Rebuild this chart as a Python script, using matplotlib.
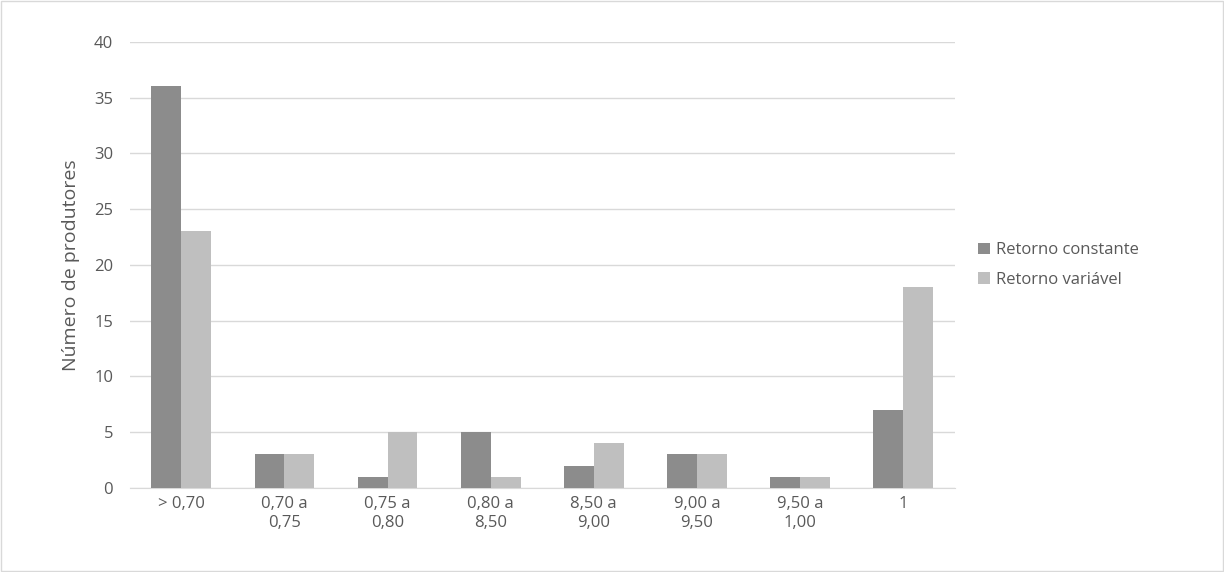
import numpy as np
import matplotlib.pyplot as plt

categorias = ['> 0,70', '0,70 a\n0,75', '0,75 a\n0,80', '0,80 a\n8,50', '8,50 a\n9,00',
              '9,00 a\n9,50', '9,50 a\n1,00', '1']
retorno_constante = [36, 3, 1, 5, 2, 3, 1, 7]
retorno_variavel = [23, 3, 5, 1, 4, 3, 1, 18]

plt.rcParams['font.family'] = ['Open Sans', 'DejaVu Sans']
txt = '#595959'

fig = plt.figure(figsize=(12.24, 5.72), dpi=100)
ax = fig.add_axes([0.106, 0.147, 0.674, 0.78])
x = np.arange(len(categorias))
w = 0.29
ax.bar(x - w / 2, retorno_constante, w, color='#8c8c8c', label='Retorno constante', zorder=3)
ax.bar(x + w / 2, retorno_variavel, w, color='#bfbfbf', label='Retorno variável', zorder=3)

ax.set_xlim(-0.5, len(categorias) - 0.5)
ax.set_ylim(0, 40)
ax.set_yticks(range(0, 41, 5))
ax.set_xticks(x)
ax.set_xticklabels(categorias, fontsize=12, color=txt)
ax.tick_params(axis='y', labelsize=12, colors=txt, length=0, pad=12)
ax.tick_params(axis='x', length=0, pad=6)
ax.grid(axis='y', color='#d9d9d9', linewidth=1, zorder=0)
for s in ['top', 'right', 'left']:
    ax.spines[s].set_visible(False)
ax.spines['bottom'].set_color('#d9d9d9')
ax.set_ylabel('Número de produtores', fontsize=14, color=txt, labelpad=10)

ax.legend(loc='center left', bbox_to_anchor=(1.01, 0.5), frameon=False,
          fontsize=12, labelcolor=txt, handlelength=0.7, handleheight=0.7,
          handletextpad=0.4, labelspacing=0.8)

fig.patches.append(plt.Rectangle((0.001, 0.002), 0.998, 0.996, transform=fig.transFigure,
                                 fill=False, edgecolor='#d9d9d9', linewidth=1))
fig.savefig('out.png', dpi=100)
